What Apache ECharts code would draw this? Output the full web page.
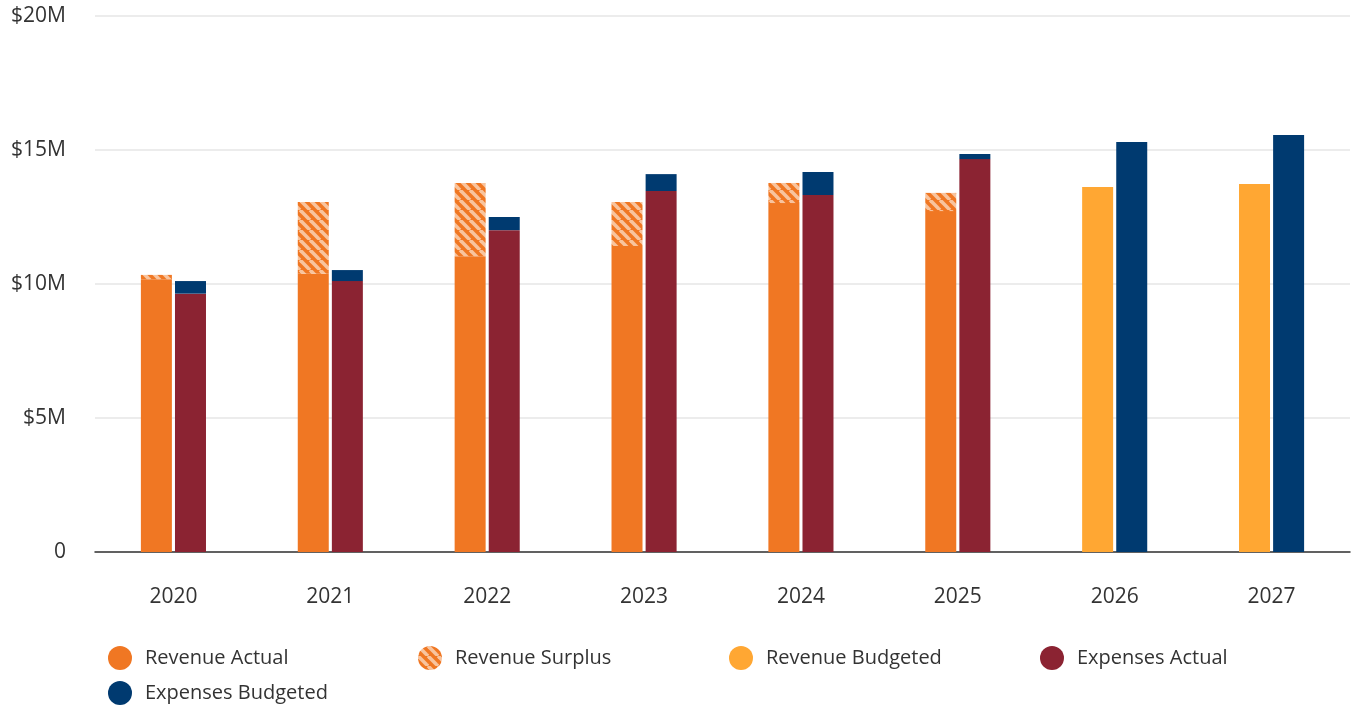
<!DOCTYPE html>
<html><head><meta charset="utf-8">
<script src="https://cdn.jsdelivr.net/npm/echarts@6/dist/echarts.min.js"></script>
<style>html,body{margin:0;padding:0;background:#fff}#c{width:1353px;height:706px}</style>
</head><body><div id="c"></div>
<script>
const years = ['2020','2021','2022','2023','2024','2025','2026','2027'];
const revenueActual   = [10.18, 10.38, 11.04, 11.42, 13.02, 12.72, null, null];
const revenueWithSurplus = [10.34, 13.06, 13.77, 13.06, 13.77, 13.40, null, null];
const revenueBudgeted = [null, null, null, null, null, null, 13.62, 13.73];
const expensesActual  = [9.64, 10.11, 12.01, 13.47, 13.32, 14.66, null, null];
const expensesBudgeted = [10.11, 10.52, 12.50, 14.10, 14.18, 14.85, 15.30, 15.56];
const yTicks = [0, 5, 10, 15, 20];
const M = 1e6;

const C_RA = '#F07723', C_RB = '#FFA733', C_EA = '#8B2332', C_EB = '#003A70';

function stripe(){
  const s = 10, cv = document.createElement('canvas');
  cv.width = s; cv.height = s;
  const g = cv.getContext('2d');
  g.fillStyle = C_RA; g.fillRect(0,0,s,s);
  g.strokeStyle = '#F8C49E'; g.lineWidth = 3.6;
  for (const k of [-s, 0, s]) { g.beginPath(); g.moveTo(k,0); g.lineTo(k+s,s); g.stroke(); }
  return cv;
}
const pat = { image: stripe(), repeat: 'repeat' };

const v = a => a.map(x => x == null ? '-' : Math.round(x*M));
const surplus = revenueWithSurplus.map((t,i) => t == null ? '-' : Math.round((t - revenueActual[i])*M));
const expExtra = expensesBudgeted.map((t,i) => Math.round((t - (expensesActual[i]||0))*M));

const font = '"Open Sans", "Noto Sans", sans-serif';
function lg(name, left, top){
  return { data:[name], left, top, padding:0, icon:'circle', itemWidth:24, itemHeight:24,
    textStyle:{ fontSize:20, color:'#333', fontFamily:font, padding:[0,0,0,8] }, selectedMode:false };
}

const chart = echarts.init(document.getElementById('c'));
chart.setOption({
  animation:false,
  grid:{ left:95, right:3, top:16, bottom:154, containLabel:false },
  legend:[ lg('Revenue Actual',108,646), lg('Revenue Surplus',418,646), lg('Revenue Budgeted',729,646),
           lg('Expenses Actual',1040,646), lg('Expenses Budgeted',108,681) ],
  xAxis:{ type:'category', data:years,
    axisLine:{ lineStyle:{ color:'#333', width:1.5 } }, axisTick:{ show:false },
    axisLabel:{ fontSize:21, color:'#333', fontFamily:font, margin:35 } },
  yAxis:{ type:'value', min:yTicks[0]*M, max:yTicks[yTicks.length-1]*M, interval:5*M,
    axisLine:{ show:false }, axisTick:{ show:false },
    splitLine:{ lineStyle:{ color:'#e6e6e6', width:1.5 } },
    axisLabel:{ fontSize:21, color:'#333', fontFamily:font, margin:29,
      formatter: val => val === 0 ? '0' : '$' + (val/M) + 'M' } },
  series:[
    { name:'Revenue Actual', type:'bar', stack:'rev', data:v(revenueActual), itemStyle:{ color:C_RA }, barWidth:31 },
    { name:'Revenue Surplus', type:'bar', stack:'rev', data:surplus, itemStyle:{ color:pat }, barWidth:31 },
    { name:'Revenue Budgeted', type:'bar', stack:'rev', data:v(revenueBudgeted), itemStyle:{ color:C_RB }, barWidth:31 },
    { name:'Expenses Actual', type:'bar', stack:'exp', data:v(expensesActual), itemStyle:{ color:C_EA }, barWidth:31 },
    { name:'Expenses Budgeted', type:'bar', stack:'exp', data:expExtra, itemStyle:{ color:C_EB }, barWidth:31, barGap:'10%' }
  ]
});
</script></body></html>
